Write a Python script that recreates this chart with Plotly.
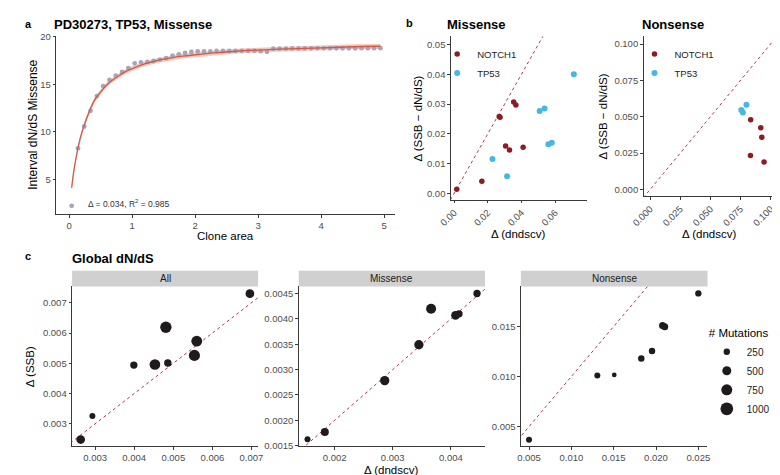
import plotly.graph_objects as go

W, H = 780, 475
FONT = "Liberation Sans, Arial, sans-serif"

# ---------------- Panel a data ----------------
clone_area = [0.04, 0.14, 0.24, 0.34, 0.44, 0.54, 0.64, 0.74, 0.84, 0.94,
              1.04, 1.14, 1.24, 1.34, 1.44, 1.54, 1.64, 1.74, 1.84, 1.94,
              2.04, 2.14, 2.24, 2.34, 2.44, 2.54, 2.64, 2.74, 2.84, 2.94,
              3.04, 3.14, 3.24, 3.34, 3.44, 3.54, 3.64, 3.74, 3.84, 3.94,
              4.04, 4.14, 4.24, 4.34, 4.44, 4.54, 4.64, 4.74, 4.84, 4.94]
interval_dnds = [2.2, 8.25, 10.55, 12.2, 13.75, 14.8, 15.45, 15.9, 16.3, 16.7,
                 17.2, 17.3, 17.35, 17.45, 17.6, 17.75, 18.0, 18.15, 18.3, 18.4,
                 18.45, 18.45, 18.45, 18.5, 18.5, 18.5, 18.5, 18.52, 18.52, 18.52,
                 18.48, 18.42, 18.75, 18.76, 18.76, 18.77, 18.77, 18.77, 18.78, 18.78,
                 18.78, 18.78, 18.79, 18.79, 18.79, 18.79, 18.8, 18.8, 18.8, 18.8]
fit_area = [0.04, 0.07, 0.1, 0.15, 0.2, 0.25, 0.3, 0.4, 0.5, 0.6, 0.7, 0.8, 0.9, 1.0,
            1.2, 1.4, 1.6, 1.8, 2.0, 2.3, 2.6, 3.0, 3.5, 4.0, 4.5, 4.94]
fit_dnds = [4.1, 5.7, 6.9, 8.6, 9.9, 10.9, 11.8, 13.3, 14.2, 14.95, 15.5, 15.95, 16.35, 16.65,
            17.15, 17.5, 17.75, 17.95, 18.1, 18.3, 18.45, 18.6, 18.73, 18.83, 18.95, 19.0]
fit_lo = [3.8, 5.4, 6.6, 8.3, 9.6, 10.6, 11.5, 13.0, 13.95, 14.7, 15.25, 15.7, 16.1, 16.4,
          16.9, 17.25, 17.5, 17.7, 17.85, 18.05, 18.2, 18.35, 18.48, 18.58, 18.7, 18.75]
fit_hi = [4.4, 6.0, 7.2, 8.9, 10.2, 11.2, 12.1, 13.6, 14.45, 15.2, 15.75, 16.2, 16.6, 16.9,
          17.4, 17.75, 18.0, 18.2, 18.35, 18.55, 18.7, 18.85, 18.98, 19.08, 19.2, 19.25]
fit_label = "Δ = 0.034, R<sup>2</sup> = 0.985"

# ---------------- Panel b data ----------------
genes = ["NOTCH1", "TP53"]
b_mis_notch1_x = [0.0016, 0.0165, 0.0268, 0.0273, 0.0354, 0.0367, 0.0306, 0.0329, 0.0410]
b_mis_notch1_y = [0.0014, 0.0041, 0.0258, 0.0256, 0.0307, 0.0297, 0.0159, 0.0146, 0.0155]
b_mis_tp53_x = [0.0228, 0.0315, 0.0508, 0.0537, 0.0560, 0.0580, 0.0711]
b_mis_tp53_y = [0.0116, 0.0058, 0.0277, 0.0285, 0.0165, 0.0170, 0.0400]
b_non_notch1_x = [0.0835, 0.0919, 0.0927, 0.0833, 0.0946]
b_non_notch1_y = [0.0480, 0.0424, 0.0359, 0.0233, 0.0190]
b_non_tp53_x = [0.0757, 0.0770, 0.0800]
b_non_tp53_y = [0.0547, 0.0529, 0.0583]

# ---------------- Panel c data ----------------
facets = ["All", "Missense", "Nonsense"]
c_all_x = [0.00263, 0.00293, 0.00399, 0.00453, 0.00486, 0.00481, 0.00560, 0.00554, 0.00696]
c_all_y = [0.00248, 0.00326, 0.00494, 0.00496, 0.00501, 0.00619, 0.00573, 0.00526, 0.00730]
c_all_n = [470, 220, 330, 700, 340, 790, 720, 760, 470]
c_mis_x = [0.001534, 0.001832, 0.002862, 0.00345, 0.00366, 0.00408, 0.00414, 0.00445]
c_mis_y = [0.001627, 0.00177, 0.002783, 0.00349, 0.00420, 0.00407, 0.00410, 0.00450]
c_mis_n = [222, 395, 534, 534, 617, 467, 329, 329]
c_non_x = [0.0050, 0.01307, 0.01507, 0.01826, 0.01953, 0.02077, 0.02103, 0.0250]
c_non_y = [0.00369, 0.0101, 0.01016, 0.01179, 0.01255, 0.0151, 0.01496, 0.0183]
c_non_n = [222, 222, 136, 260, 260, 302, 302, 245]
size_breaks = [250, 500, 750, 1000]
identity = [-1, 1]

# ---------------- styles ----------------
COL_NOTCH1 = "#8c1c22"
COL_TP53 = "#43b7e6"
COL_DASH = "#b23a48"
COL_PT = "#1f1a1c"
SIZEREF = 12.35
TICKCOL = "#4d4d4d"
LINECOL = "#3a3a3a"
AXT = 11.5


def xd(a, b):
    return [a / W, b / W]


def yd(top, bottom):
    return [1 - bottom / H, 1 - top / H]


def px(x):
    return x / W


def py(y):
    return 1 - y / H


fig = go.Figure()

# panel a
fig.add_trace(go.Scatter(x=fit_area, y=fit_lo, mode="lines", line=dict(width=0),
                         showlegend=False, hoverinfo="skip", xaxis="x", yaxis="y"))
fig.add_trace(go.Scatter(x=fit_area, y=fit_hi, mode="lines", line=dict(width=0),
                         fill="tonexty", fillcolor="rgba(238,160,140,0.6)",
                         showlegend=False, hoverinfo="skip", xaxis="x", yaxis="y"))
fig.add_trace(go.Scatter(x=clone_area, y=interval_dnds, mode="markers",
                         marker=dict(size=4.8, color="#a8a5bb"), showlegend=False,
                         xaxis="x", yaxis="y"))
fig.add_trace(go.Scatter(x=fit_area, y=fit_dnds, mode="lines",
                         line=dict(color="#cf5a48", width=1.3, shape="spline"),
                         showlegend=False, xaxis="x", yaxis="y"))

# panel b
for ax, (nx, ny, tx, ty), leg in [
    ("2", (b_mis_notch1_x, b_mis_notch1_y, b_mis_tp53_x, b_mis_tp53_y), "legend"),
    ("3", (b_non_notch1_x, b_non_notch1_y, b_non_tp53_x, b_non_tp53_y), "legend2"),
]:
    fig.add_trace(go.Scatter(x=identity, y=identity, mode="lines",
                             line=dict(color=COL_DASH, width=1, dash="3px,3px"),
                             showlegend=False, hoverinfo="skip",
                             xaxis="x" + ax, yaxis="y" + ax))
    fig.add_trace(go.Scatter(x=nx, y=ny, mode="markers", name=genes[0],
                             marker=dict(size=5.5, color=COL_NOTCH1, opacity=1), legend=leg,
                             xaxis="x" + ax, yaxis="y" + ax))
    fig.add_trace(go.Scatter(x=tx, y=ty, mode="markers", name=genes[1],
                             marker=dict(size=6, color=COL_TP53, opacity=1), legend=leg,
                             xaxis="x" + ax, yaxis="y" + ax))

# panel c
for ax, (cx, cy, cn) in [("4", (c_all_x, c_all_y, c_all_n)),
                         ("5", (c_mis_x, c_mis_y, c_mis_n)),
                         ("6", (c_non_x, c_non_y, c_non_n))]:
    fig.add_trace(go.Scatter(x=identity, y=identity, mode="lines",
                             line=dict(color=COL_DASH, width=1, dash="3px,3px"),
                             showlegend=False, hoverinfo="skip",
                             xaxis="x" + ax, yaxis="y" + ax))
    fig.add_trace(go.Scatter(x=cx, y=cy, mode="markers", showlegend=False,
                             marker=dict(size=cn, sizemode="area", sizeref=SIZEREF,
                                         color=COL_PT, opacity=1, line=dict(width=0)),
                             xaxis="x" + ax, yaxis="y" + ax))

# size legend keys
for n in size_breaks:
    fig.add_trace(go.Scatter(x=[None], y=[None], mode="markers", name=str(n),
                             marker=dict(size=(2 * n / SIZEREF) ** 0.5, color=COL_PT,
                                         opacity=1),
                             legend="legend3", xaxis="x6", yaxis="y6"))


def axstyle(**kw):
    d = dict(showline=True, linecolor=LINECOL, linewidth=1, ticks="outside",
             ticklen=2.5, tickcolor=LINECOL, tickwidth=1,
             tickfont=dict(size=9.5, color=TICKCOL, family=FONT),
             showgrid=False, zeroline=False, fixedrange=True)
    d.update(kw)
    return d


LEGFONT = dict(size=9.5, color="#222", family=FONT)
layout = dict(
    width=W, height=H, margin=dict(l=0, r=0, t=0, b=0),
    paper_bgcolor="white", plot_bgcolor="white",
    font=dict(family=FONT, color="black"),
    xaxis=axstyle(domain=xd(36, 383), range=[-0.206, 5.174], anchor="y",
                  tickvals=[0, 1, 2, 3, 4, 5]),
    yaxis=axstyle(domain=yd(23.3, 205.7), range=[1.30, 20.1], anchor="x",
                  tickvals=[5, 10, 15, 20]),
    xaxis2=axstyle(domain=xd(440, 579), range=[-0.0019, 0.0787], anchor="y2",
                   tickvals=[0, 0.02, 0.04, 0.06], tickformat=".2f", tickangle=-45),
    yaxis2=axstyle(domain=yd(24, 191), range=[-0.0022, 0.0527], anchor="x2",
                   tickvals=[0, 0.01, 0.02, 0.03, 0.04, 0.05], tickformat=".2f"),
    xaxis3=axstyle(domain=xd(637.3, 771.7), range=[-0.0054, 0.1036], anchor="y3",
                   tickvals=[0, 0.025, 0.05, 0.075, 0.1], tickformat=".3f", tickangle=-45),
    yaxis3=axstyle(domain=yd(24, 187.3), range=[-0.0047, 0.1052], anchor="x3",
                   tickvals=[0, 0.025, 0.05, 0.075, 0.1], tickformat=".3f"),
    xaxis4=axstyle(domain=xd(52.3, 242.7), range=[0.00241, 0.00717], anchor="y4",
                   tickvals=[0.003, 0.004, 0.005, 0.006, 0.007], tickformat=".3f"),
    yaxis4=axstyle(domain=yd(279.3, 442.5), range=[0.00226, 0.00754], anchor="x4",
                   tickvals=[0.003, 0.004, 0.005, 0.006, 0.007], tickformat=".3f"),
    xaxis5=axstyle(domain=xd(284.3, 475), range=[0.001383, 0.004588], anchor="y5",
                   tickvals=[0.002, 0.003, 0.004], tickformat=".3f"),
    yaxis5=axstyle(domain=yd(279.3, 442.5), range=[0.00149, 0.00464], anchor="x5",
                   tickvals=[0.0015, 0.002, 0.0025, 0.003, 0.0035, 0.004, 0.0045],
                   tickformat=".4f"),
    xaxis6=axstyle(domain=xd(511.7, 702.7), range=[0.00404, 0.02608], anchor="y6",
                   tickvals=[0.005, 0.01, 0.015, 0.02, 0.025], tickformat=".3f"),
    yaxis6=axstyle(domain=yd(279.3, 442.5), range=[0.00304, 0.019], anchor="x6",
                   tickvals=[0.005, 0.01, 0.015], tickformat=".3f"),
    legend=dict(x=px(426), y=py(27), xanchor="left", yanchor="top", traceorder="normal",
                bgcolor="rgba(0,0,0,0)", font=LEGFONT, itemsizing="trace"),
    legend2=dict(x=px(628), y=py(27), xanchor="left", yanchor="top", traceorder="normal",
                 bgcolor="rgba(0,0,0,0)", font=LEGFONT, itemsizing="trace"),
    legend3=dict(x=px(702), y=py(316), xanchor="left", yanchor="top", traceorder="normal",
                 bgcolor="rgba(0,0,0,0)", font=dict(size=10, color="#222", family=FONT),
                 itemsizing="trace",
                 title=dict(text="# Mutations", font=dict(size=11.5, color="black", family=FONT))),
)

shapes = []
annotations = []


def ann(text, x, y, size=AXT, bold=False, xanchor="center", yanchor="middle",
        angle=0, color="black"):
    if bold:
        text = "<b>" + text + "</b>"
    annotations.append(dict(text=text, x=px(x), y=py(y), xref="paper", yref="paper",
                            showarrow=False, xanchor=xanchor, yanchor=yanchor,
                            textangle=angle, borderpad=0,
                            font=dict(size=size, color=color, family=FONT)))


# panel a texts
ann("a", 3, 11, size=11, bold=True, xanchor="left")
ann("PD30273, TP53, Missense", 33, 12, size=13, bold=True, xanchor="left")
ann("Interval dN/dS Missense", 12, 114.5, size=12, angle=-90)
ann("Clone area", 209.5, 228)
ann(fit_label, 68, 195, size=8.5, xanchor="left", color="#333")

# panel b texts
ann("b", 393, 10, size=11, bold=True, xanchor="left")
ann("Missense", 435, 12, size=13, bold=True, xanchor="left")
ann("Nonsense", 635, 12, size=13, bold=True, xanchor="left")
ann("Δ (SSB − dN/dS)", 406.7, 107.5, angle=-90)
ann("Δ (SSB − dN/dS)", 596.7, 105.7, angle=-90)
ann("Δ (dndscv)", 509.5, 226)
ann("Δ (dndscv)", 704.5, 226)

# panel c texts
ann("c", 3, 248, size=11, bold=True, xanchor="left")
ann("Global dN/dS", 51, 251, size=13, bold=True, xanchor="left")
ann("Δ (SSB)", 10, 361, angle=-90)
ann("Δ (dndscv)", 379.7, 467)
for name, (l, r) in zip(facets, [(52.3, 242.7), (284.3, 475), (511.7, 702.7)]):
    shapes.append(dict(type="rect", xref="paper", yref="paper", x0=px(l), x1=px(r),
                       y0=py(279.3), y1=py(263.3), fillcolor="#d0d0d0",
                       line=dict(width=0), layer="below"))
    ann(name, (l + r) / 2, 271.3, size=10, color="#1a1a1a")

layout["shapes"] = shapes
layout["annotations"] = annotations
fig.update_layout(**layout)
fig.write_html("out.html")
